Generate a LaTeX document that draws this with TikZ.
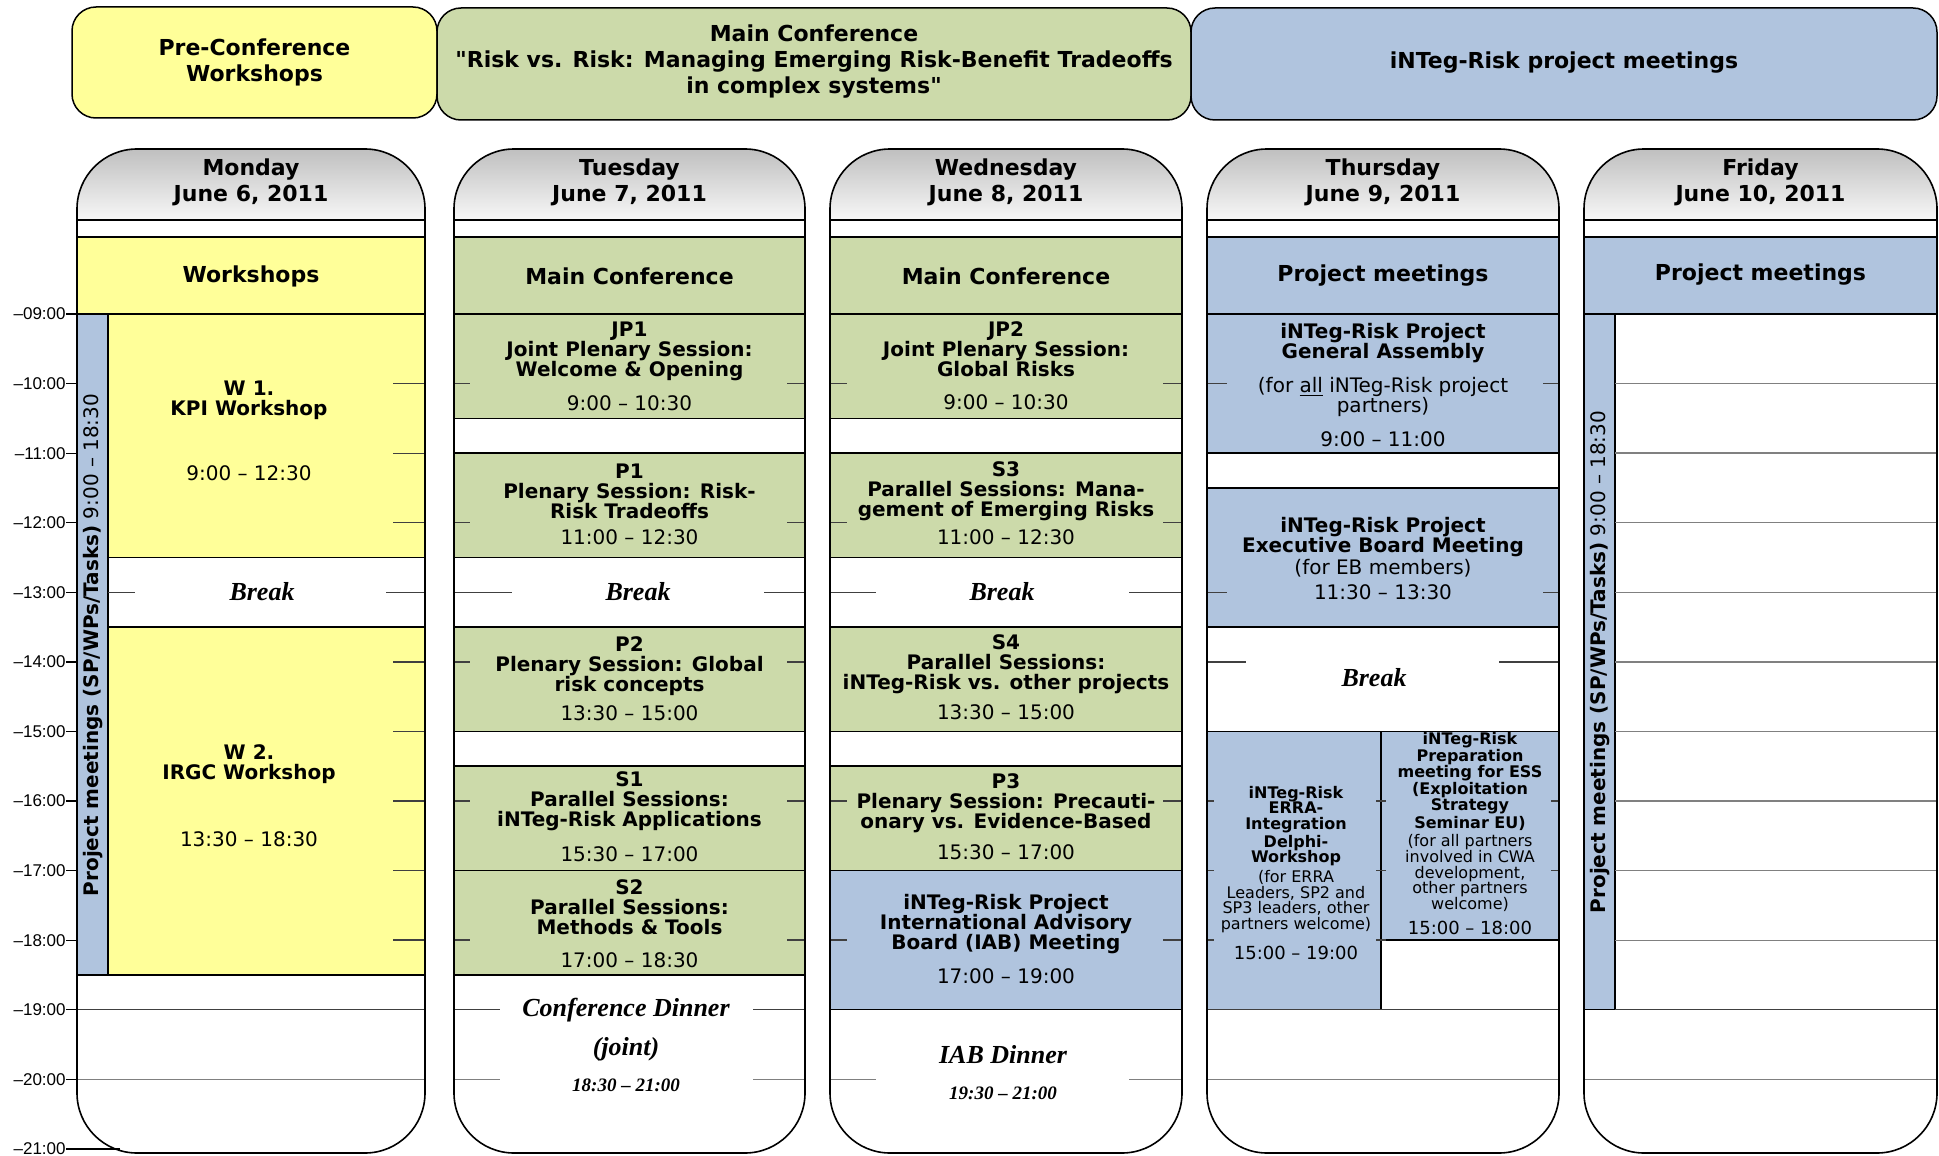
\documentclass[tikz,border=0pt]{standalone}
\usepackage{fontspec}
\setmainfont{DejaVu Sans}[Ligatures=TeXOff]
\newfontfamily\serifbi{Liberation Serif}
\newfontfamily\arialf{Liberation Sans}
\usetikzlibrary{calc}
\definecolor{yel}{HTML}{FFFF99}
\definecolor{grn}{HTML}{CCDAAA}
\definecolor{blu}{HTML}{B0C4DE}
\newcommand\colbg[2]{%
  \fill[white, rounded corners=30pt] (#1,149) rectangle (#2,1153);
  \begin{scope}\clip[rounded corners=30pt] (#1,149) rectangle (#2,1153);
  \shade[top color=black!25, bottom color=black!3] (#1,149) rectangle (#2,220);\end{scope}}
\newcommand\colfg[2]{%
  \draw[line width=0.8pt, rounded corners=30pt] (#1,149) rectangle (#2,1153);
  \draw[line width=0.75pt] (#1,220) -- (#2,220);}
\begin{document}
\begin{tikzpicture}[x=0.5pt,y=-0.5pt,
  bx/.style={draw=black,line width=0.75pt},
  hdr/.style={font=\fontsize{11}{13}\selectfont\bfseries, align=center},
  ttl/.style={font=\fontsize{10}{10}\selectfont\bfseries, align=center},
  tim/.style={font=\fontsize{10}{10}\selectfont, align=center},
  sb/.style={font=\fontsize{8}{7.8}\selectfont\bfseries, align=center},
  sn/.style={font=\fontsize{8}{7.8}\selectfont, align=center},
  stm/.style={font=\fontsize{9}{9}\selectfont},
  brk/.style={font=\serifbi\fontsize{13}{14}\selectfont\bfseries\itshape},
  brks/.style={font=\serifbi\fontsize{9.5}{10}\selectfont\bfseries\itshape},
  hl/.style={font=\arialf\fontsize{8.5}{10}\selectfont, anchor=east, inner sep=0pt},
  tk/.style={draw=black!75, line width=0.7pt},
  tkg/.style={draw=black!50, line width=0.7pt},
  striptext/.style={rotate=90, font=\fontsize{10}{10}\selectfont},
]
\useasboundingbox (0,0) rectangle (1939,1156);
\fill[white] (0,0) rectangle (1939,1156);

% ---------- top header boxes
\draw[bx, fill=yel, rounded corners=12pt] (72,7) rectangle (437,118);
\draw[bx, fill=grn, rounded corners=12pt] (437,8) rectangle (1191,120);
\draw[bx, fill=blu, rounded corners=12pt] (1191,8) rectangle (1937,120);
\node[hdr] (hpre) at (254.5,62) {Pre-Conference\\Workshops};
\node[hdr] (hmain) at (814,62) {Main Conference\\"Risk vs. Risk: Managing Emerging Risk-Benefit Tradeoffs\\in complex systems"};
\node[hdr] (hproj) at (1564,63) {iNTeg-Risk project meetings};

% ---------- time labels
\foreach \h in {9,...,20} {
  \pgfmathsetmacro\yy{314+69.58*(\h-9)}
  \node[hl] (tl\h) at (66,\yy) {–\ifnum\h<10 0\fi\h:00};
  \draw[line width=0.6pt] (tl\h.east) -- (77,\yy);
}
\node[hl] (tl21) at (66,1148.9) {–21:00};

% ================= Monday
\colbg{77}{425}
\draw[bx, fill=yel] (77,237) rectangle (425,314);
\draw[bx, fill=blu] (77,314) rectangle (108,974.9);
\draw[bx, fill=yel] (108,314) rectangle (425,557.5);
\draw[bx, fill=yel] (108,627.1) rectangle (425,974.9);
\foreach \y in {383.6,453.2,522.7,661.8,731.4,801,870.6,940.1} {\draw[tk] (393,\y) -- (425,\y);}
\draw[tk] (108,592.3) -- (135,592.3); \draw[tk] (386,592.3) -- (425,592.3);
\draw[tk] (77,1009.7) -- (425,1009.7);
\draw[tkg] (77,1079.3) -- (425,1079.3);
\colfg{77}{425}

% ================= Tuesday
\colbg{454}{805}
\draw[bx, fill=grn] (454,237) rectangle (805,314);
\draw[bx, fill=grn] (454,314) rectangle (805,418.4);
\draw[bx, fill=grn] (454,453.2) rectangle (805,557.5);
\draw[bx, fill=grn] (454,627.1) rectangle (805,731.4);
\draw[bx, fill=grn] (454,766.2) rectangle (805,870.6);
\draw[bx, fill=grn] (454,870.6) rectangle (805,974.9);
\foreach \y in {383.6,522.7,661.8,801,940.1} {\draw[tk] (454,\y) -- (470,\y); \draw[tk] (787,\y) -- (805,\y);}
\draw[tk] (454,592.3) -- (512,592.3); \draw[tk] (764,592.3) -- (805,592.3);
\draw[tk] (454,1009.7) -- (500,1009.7); \draw[tk] (753,1009.7) -- (805,1009.7);
\draw[tkg] (454,1079.3) -- (500,1079.3); \draw[tkg] (753,1079.3) -- (805,1079.3);
\colfg{454}{805}

% ================= Wednesday
\colbg{830}{1182}
\draw[bx, fill=grn] (830,237) rectangle (1182,314);
\draw[bx, fill=grn] (830,314) rectangle (1182,418.4);
\draw[bx, fill=grn] (830,453.2) rectangle (1182,557.5);
\draw[bx, fill=grn] (830,627.1) rectangle (1182,731.4);
\draw[bx, fill=grn] (830,766.2) rectangle (1182,870.6);
\draw[bx, fill=blu] (830,870.6) rectangle (1182,1009.7);
\foreach \y in {383.6,522.7,801,940.1} {\draw[tk] (830,\y) -- (847,\y); \draw[tk] (1163,\y) -- (1182,\y);}
\draw[tk] (830,592.3) -- (876,592.3); \draw[tk] (1129,592.3) -- (1182,592.3);
\draw[tkg] (830,1079.3) -- (876,1079.3); \draw[tkg] (1129,1079.3) -- (1182,1079.3);
\colfg{830}{1182}

% ================= Thursday
\colbg{1207}{1559}
\draw[bx, fill=blu] (1207,237) rectangle (1559,314);
\draw[bx, fill=blu] (1207,314) rectangle (1559,453.2);
\draw[bx, fill=blu] (1207,487.9) rectangle (1559,627.1);
\draw[bx, fill=blu] (1207,731.4) rectangle (1381,1009.7);
\draw[bx, fill=blu] (1381,731.4) rectangle (1559,940.1);
\foreach \y in {383.6,592.3} {\draw[tk] (1207,\y) -- (1227,\y); \draw[tk] (1543,\y) -- (1559,\y);}
\draw[tk] (1207,661.8) -- (1246,661.8); \draw[tk] (1499,661.8) -- (1559,661.8);
\foreach \y in {801,870.6} {\draw[tk] (1207,\y) -- (1214,\y); \draw[tk] (1376,\y) -- (1386,\y); \draw[tk] (1551,\y) -- (1559,\y);}
\draw[tk] (1207,940.1) -- (1214,940.1); \draw[tk] (1376,940.1) -- (1386,940.1);
\draw[tk] (1207,1009.7) -- (1559,1009.7);
\draw[tkg] (1207,1079.3) -- (1559,1079.3);
\colfg{1207}{1559}

% ================= Friday
\colbg{1584}{1937}
\draw[bx, fill=blu] (1584,237) rectangle (1937,314);
\draw[bx, fill=blu] (1584,314) rectangle (1615,1009.7);
\foreach \h in {10,...,18} {\pgfmathsetmacro\yy{314+69.58*(\h-9)} \draw[tkg] (1615,\yy) -- (1937,\yy);}
\draw[tk] (1615,1009.7) -- (1937,1009.7);
\draw[tkg] (1584,1079.3) -- (1937,1079.3);
\colfg{1584}{1937}

\draw[line width=0.6pt] (tl21.east) -- (120,1148.9);

% ---------- day headers
\node[hdr] (dmon) at (251,182) {Monday\\June 6, 2011};
\node[hdr] (dtue) at (629.5,182) {Tuesday\\June 7, 2011};
\node[hdr] (dwed) at (1006,182) {Wednesday\\June 8, 2011};
\node[hdr] (dthu) at (1383,182) {Thursday\\June 9, 2011};
\node[hdr] (dfri) at (1760.5,182) {Friday\\June 10, 2011};
\node[hdr] (bmon) at (251,276) {Workshops};
\node[hdr] (btue) at (629.5,276) {Main Conference};
\node[hdr] (bwed) at (1006,276) {Main Conference};
\node[hdr] (bthu) at (1383,276) {Project meetings};
\node[hdr] (bfri) at (1760.5,275) {Project meetings};

% ---------- Monday texts
\node[striptext] (smon) at (93,645) {\textbf{Project meetings (SP/WPs/Tasks)} 9:00 – 18:30};
\node[ttl] (w1) at (249,400) {W 1.\\KPI Workshop};
\node[tim] (w1t) at (249,473) {9:00 – 12:30};
\node[brk] (brmon) at (262,592) {Break};
\node[ttl] (w2) at (249,764.5) {W 2.\\IRGC Workshop};
\node[tim] (w2t) at (249,839) {13:30 – 18:30};

% ---------- Tuesday texts
\node[ttl] (jp1) at (629.5,351) {JP1\\Joint Plenary Session:\\Welcome \& Opening};
\node[tim] (jp1t) at (629.5,403) {9:00 – 10:30};
\node[ttl] (p1) at (629.5,491) {P1\\Plenary Session: Risk-\\Risk Tradeoffs};
\node[tim] (p1t) at (629.5,537) {11:00 – 12:30};
\node[brk] (brtue) at (638,592) {Break};
\node[ttl] (p2) at (629.5,666) {P2\\Plenary Session: Global\\risk concepts};
\node[tim] (p2t) at (629.5,713) {13:30 – 15:00};
\node[ttl] (s1) at (629.5,801) {S1\\Parallel Sessions:\\iNTeg-Risk Applications};
\node[tim] (s1t) at (629.5,854) {15:30 – 17:00};
\node[ttl] (s2) at (629.5,907) {S2\\Parallel Sessions:\\Methods \& Tools};
\node[tim] (s2t) at (629.5,960) {17:00 – 18:30};
\node[brk, fill=white, inner xsep=6pt] (cd) at (626,1010) {Conference Dinner};
\node[brk] (cdj) at (626,1049) {(joint)};
\node[brks, fill=white, inner xsep=6pt] (cdt) at (626,1085) {18:30 – 21:00};

% ---------- Wednesday texts
\node[ttl] (jp2) at (1006,349) {JP2\\Joint Plenary Session:\\Global Risks};
\node[tim] (jp2t) at (1006,402) {9:00 – 10:30};
\node[ttl] (s3) at (1006,491) {S3\\Parallel Sessions: Mana-\\gement of Emerging Risks};
\node[tim] (s3t) at (1006,537) {11:00 – 12:30};
\node[brk] (brwed) at (1002,592) {Break};
\node[ttl] (s4) at (1006,664) {S4\\Parallel Sessions:\\iNTeg-Risk vs. other projects};
\node[tim] (s4t) at (1006,712) {13:30 – 15:00};
\node[ttl] (p3) at (1006,803) {P3\\Plenary Session: Precauti-\\onary vs. Evidence-Based};
\node[tim] (p3t) at (1006,852) {15:30 – 17:00};
\node[ttl] (iab) at (1006,924) {iNTeg-Risk Project\\International Advisory\\Board (IAB) Meeting};
\node[tim] (iabt) at (1006,976) {17:00 – 19:00};
\node[brk] (iabd) at (1003,1055) {IAB Dinner};
\node[brks] (iabdt) at (1003,1093) {19:30 – 21:00};

% ---------- Thursday texts
\node[ttl] (ga) at (1383,343) {iNTeg-Risk Project\\General Assembly};
\node[tim] (gan) at (1383,397) {(for \underline{all} iNTeg-Risk project\\partners)};
\node[tim] (gat) at (1383,439) {9:00 – 11:00};
\node[ttl] (eb) at (1383,537) {iNTeg-Risk Project\\Executive Board Meeting};
\node[tim] (ebn) at (1383,568) {(for EB members)};
\node[tim] (ebt) at (1383,592) {11:30 – 13:30};
\node[brk] (brthu) at (1374,678) {Break};
\node[sb] (erra) at (1296,826) {iNTeg-Risk\\ERRA-\\Integration\\Delphi-\\Workshop};
\node[sn] (erran) at (1296,901.5) {(for ERRA\\Leaders, SP2 and\\SP3 leaders, other\\partners welcome)};
\node[stm] (errat) at (1296,953) {15:00 – 19:00};
\node[sb] (ess) at (1470,781) {iNTeg-Risk\\Preparation\\meeting for ESS\\(Exploitation\\Strategy\\Seminar EU)};
\node[sn] (essn) at (1470,873) {(for all partners\\involved in CWA\\development,\\other partners\\welcome)};
\node[stm] (esst) at (1470,928) {15:00 – 18:00};

% ---------- Friday texts
\node[striptext] (sfri) at (1600,662) {\textbf{Project meetings (SP/WPs/Tasks)} 9:00 – 18:30};
\end{tikzpicture}
\end{document}
